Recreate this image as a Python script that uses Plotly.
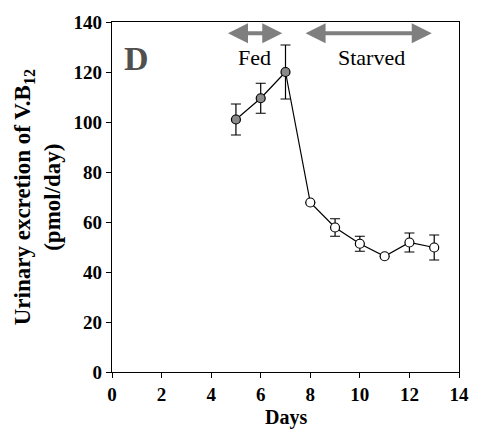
import plotly.graph_objects as go

fed_days = [5, 6, 7]
fed_vals = [101, 109.5, 120]
fed_err = [6.2, 6.0, 10.8]

starved_days = [8, 9, 10, 11, 12, 13]
starved_vals = [67.8, 57.8, 51.3, 46.3, 51.8, 49.8]
starved_err = [0, 3.5, 3.0, 0, 3.8, 5.0]

all_days = fed_days + starved_days
all_vals = fed_vals + starved_vals

x_ticks = [0, 2, 4, 6, 8, 10, 12, 14]
y_ticks = [0, 20, 40, 60, 80, 100, 120, 140]

FONT = "Liberation Serif"

fig = go.Figure()
fig.add_trace(go.Scatter(x=all_days, y=all_vals, mode="lines",
                         line=dict(color="black", width=1.2), showlegend=False))
fig.add_trace(go.Scatter(x=fed_days, y=fed_vals, mode="markers",
                         error_y=dict(type="data", array=fed_err, color="black", thickness=1.2, width=5),
                         marker=dict(size=9, color="#8a8a8a", line=dict(color="black", width=1.2)),
                         showlegend=False))
fig.add_trace(go.Scatter(x=starved_days, y=starved_vals, mode="markers",
                         error_y=dict(type="data", array=starved_err, color="black", thickness=1.2, width=5),
                         marker=dict(size=9, color="white", line=dict(color="black", width=1.2)),
                         showlegend=False))

# arrows
for (x0, x1) in [(4.62, 6.87), (7.75, 12.9)]:
    fig.add_annotation(x=x1, y=135.5, ax=x0, ay=135.5, xref="x", yref="y", axref="x", ayref="y",
                       text="", showarrow=True, arrowhead=2, arrowside="end+start",
                       arrowsize=1.0, arrowwidth=4, arrowcolor="#7f7f7f")

fig.add_annotation(x=5.75, y=126, text="Fed", showarrow=False,
                   font=dict(family=FONT, size=22, color="black"))
fig.add_annotation(x=10.45, y=126, text="Starved", showarrow=False,
                   font=dict(family=FONT, size=22, color="black"))
fig.add_annotation(x=0.99, y=125.4, text="<b>D</b>", showarrow=False,
                   font=dict(family=FONT, size=34, color="#505050"))

# axis titles
fig.add_annotation(xref="paper", yref="paper", x=-76 / 353, y=0.5, xanchor="center", yanchor="middle",
                   text="<b>Urinary excretion of V.B<sub>12</sub><br>(pmol/day)</b>", textangle=-90,
                   showarrow=False, font=dict(family=FONT, size=23, color="black"))
fig.add_annotation(xref="paper", yref="paper", x=0.5, y=-46 / 355, xanchor="center", yanchor="middle",
                   text="<b>Days</b>", showarrow=False, font=dict(family=FONT, size=20, color="black"))

fig.update_xaxes(range=[0, 14], tickvals=x_ticks, ticks="outside", ticklen=5, tickwidth=1,
                 tickcolor="black", showline=True, linecolor="black", linewidth=1.2,
                 mirror=True, showgrid=False, zeroline=False,
                 tickfont=dict(family=FONT, size=19, color="black", weight="bold"))
fig.update_yaxes(range=[0, 140], tickvals=y_ticks, ticks="outside", ticklen=5, tickwidth=1,
                 tickcolor="black", showline=True, linecolor="black", linewidth=1.2,
                 mirror=True, showgrid=False, zeroline=False,
                 tickfont=dict(family=FONT, size=19, color="black", weight="bold"))

fig.update_layout(width=481, height=436, margin=dict(l=112, r=16, t=17, b=64),
                  plot_bgcolor="white", paper_bgcolor="white")

fig.write_html("out.html")
